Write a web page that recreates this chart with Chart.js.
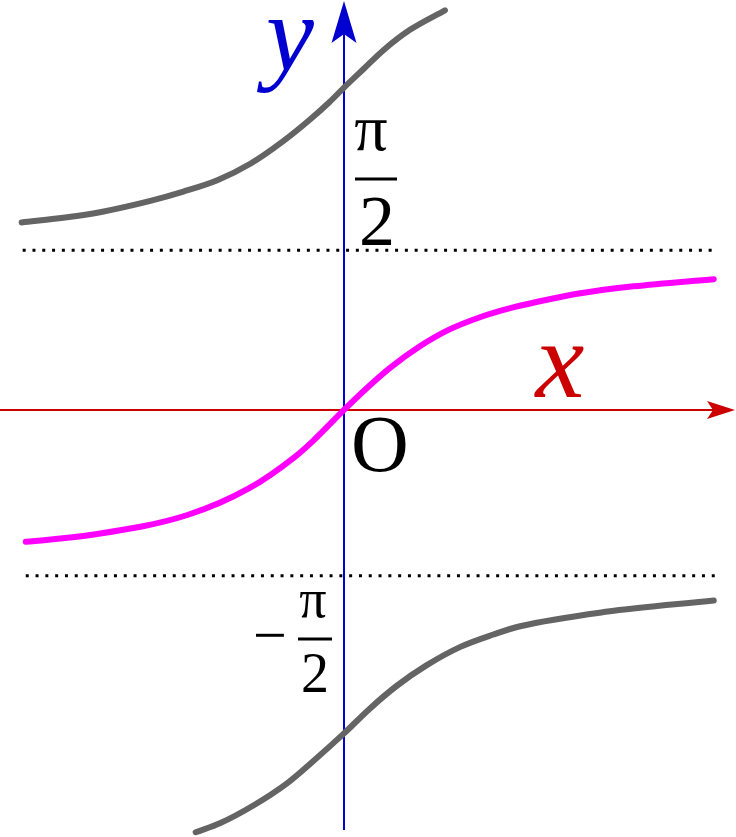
<!DOCTYPE html>
<html>
<head>
<meta charset="utf-8">
<script src="https://cdn.jsdelivr.net/npm/chart.js@4"></script>
<style>
  body { margin: 0; background: #fff; }
  canvas { display: block; }
</style>
</head>
<body>
<canvas id="grafik" width="736" height="837"></canvas>
<script>
// nilai (satuan sumbu, 1 satuan ~ 103px)
let tengahX = [-3.09, -2.43, -1.52, -0.92, -0.47, -0.30, 0, 0.22, 0.45, 0.74, 1.00, 1.32, 1.66, 1.97, 2.28, 2.81, 3.59];
let tengahY = [-1.28, -1.21, -1.02, -0.76, -0.45, -0.30, 0, 0.21, 0.41, 0.62, 0.77, 0.90, 1.00, 1.07, 1.13, 1.20, 1.27];

let atasX = [-3.13, -2.69, -2.37, -1.88, -1.56, -1.23, -0.91, -0.59, -0.33, -0.14, 0, 0.19, 0.38, 0.64, 0.98];
let atasY = [1.82, 1.87, 1.92, 2.03, 2.12, 2.23, 2.39, 2.61, 2.82, 2.99, 3.13, 3.31, 3.49, 3.69, 3.88];

let bawahX = [-1.44, -1.20, -0.88, -0.56, -0.30, 0, 0.25, 0.51, 0.80, 1.13, 1.45, 1.71, 2.54, 3.59];
let bawahY = [-4.10, -4.01, -3.84, -3.63, -3.41, -3.14, -2.90, -2.68, -2.48, -2.30, -2.18, -2.10, -1.96, -1.85];

// garis putus-putus (asimtot) dan ujung kiri/kanannya
let asimtotY = [1.55, -1.61];
let asimtotX = [[-3.12, 3.61], [-3.09, 3.63]];

function gabung(xs, ys) {
    return xs.map(function(x, i) { return { x: x, y: ys[i] }; });
}

function kurva(xs, ys, warna) {
    return {
        data: gabung(xs, ys),
        showLine: true,
        borderColor: warna,
        borderWidth: 6,
        borderCapStyle: 'round',
        borderJoinStyle: 'round',
        pointRadius: 0,
        cubicInterpolationMode: 'monotone',
        fill: false
    };
}

function titik(i) {
    return {
        data: asimtotX[i].map(function(x) { return { x: x, y: asimtotY[i] }; }),
        showLine: true,
        borderColor: '#000',
        borderWidth: 3,
        borderDash: [3, 6.8],
        pointRadius: 0,
        tension: 0,
        fill: false
    };
}

function panah(ctx, ujung, kiri, lekuk, kanan) {
    ctx.beginPath();
    ctx.moveTo(ujung[0], ujung[1]);
    ctx.lineTo(kiri[0], kiri[1]);
    ctx.lineTo(lekuk[0], lekuk[1]);
    ctx.lineTo(kanan[0], kanan[1]);
    ctx.closePath();
    ctx.fill();
}

function tulis(ctx, teks, font, x, y, warna) {
    ctx.font = font;
    ctx.fillStyle = warna;
    ctx.textAlign = 'center';
    ctx.textBaseline = 'alphabetic';
    ctx.fillText(teks, x, y);
}

const tambahan = {
    id: 'tambahan',
    beforeDatasetsDraw(chart) {
        const ctx = chart.ctx;
        const ox = chart.scales.x.getPixelForValue(0);
        const oy = chart.scales.y.getPixelForValue(0);
        ctx.save();
        // sumbu x
        ctx.strokeStyle = '#cc0000';
        ctx.fillStyle = '#cc0000';
        ctx.lineWidth = 2;
        ctx.beginPath();
        ctx.moveTo(0, oy);
        ctx.lineTo(714, oy);
        ctx.stroke();
        panah(ctx, [735, oy], [707, oy - 9], [713, oy], [707, oy + 9]);
        // sumbu y
        ctx.strokeStyle = '#0000d0';
        ctx.fillStyle = '#0000d0';
        ctx.beginPath();
        ctx.moveTo(ox, 830);
        ctx.lineTo(ox, 34);
        ctx.stroke();
        panah(ctx, [ox, 1], [ox + 12.5, 43], [ox, 34], [ox - 12.5, 43]);
        ctx.restore();
    },
    afterDatasetsDraw(chart) {
        const ctx = chart.ctx;
        ctx.save();
        const serif = '"Liberation Serif", "DejaVu Serif", serif';
        tulis(ctx, 'y', 'italic 108px ' + serif, 290, 70, '#0000d0');
        tulis(ctx, 'x', 'italic 110px ' + serif, 560, 397, '#cc0000');
        tulis(ctx, 'O', '80px ' + serif, 380, 471, '#000');
        // pi/2 dan -pi/2
        tulis(ctx, 'π', '66px ' + serif, 371, 150, '#000');
        tulis(ctx, '2', '72px ' + serif, 377, 245, '#000');
        tulis(ctx, 'π', '54px ' + serif, 313, 617, '#000');
        tulis(ctx, '2', '56px ' + serif, 315, 692, '#000');
        tulis(ctx, '−', '60px ' + serif, 270, 655, '#000');
        ctx.strokeStyle = '#000';
        ctx.lineWidth = 3;
        ctx.beginPath();
        ctx.moveTo(355, 179);
        ctx.lineTo(397, 179);
        ctx.moveTo(298, 639);
        ctx.lineTo(332, 639);
        ctx.stroke();
        ctx.restore();
    }
};

let grafik = new Chart(document.getElementById('grafik'), {
    type: 'scatter',
    data: {
        datasets: [
            titik(0),
            titik(1),
            kurva(atasX, atasY, '#646464'),
            kurva(bawahX, bawahY, '#646464'),
            kurva(tengahX, tengahY, '#ff00ff')
        ]
    },
    options: {
        responsive: false,
        animation: false,
        events: [],
        layout: { padding: 0 },
        plugins: {
            legend: { display: false },
            tooltip: { enabled: false }
        },
        scales: {
            x: { type: 'linear', display: false, min: -3.34, max: 3.806 },
            y: { type: 'linear', display: false, min: -4.146, max: 3.98 }
        }
    },
    plugins: [tambahan]
});
</script>
</body>
</html>
